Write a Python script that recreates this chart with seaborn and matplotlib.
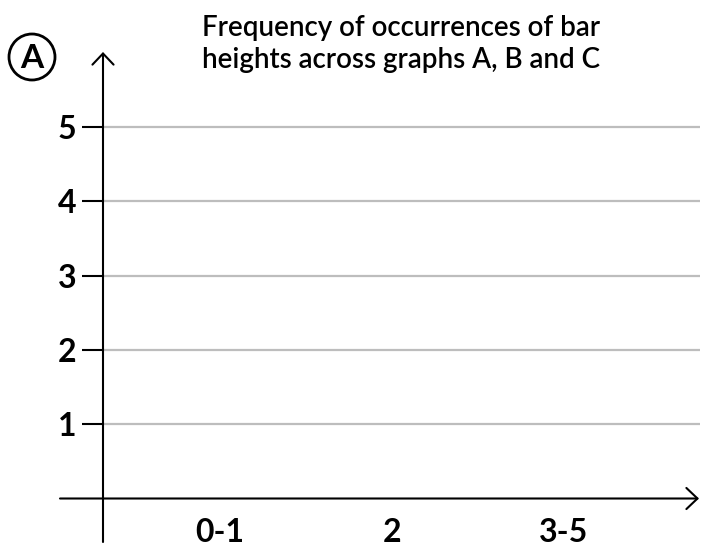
import pandas as pd
import seaborn as sns
import matplotlib.pyplot as plt
from matplotlib.patches import Ellipse

# chart data (the reference shows an empty frequency chart)
categories = ["0-1", "2", "3-5"]
frequencies = [0, 0, 0]
y_ticks = [1, 2, 3, 4, 5]
title = "Frequency of occurrences of bar\nheights across graphs A, B and C"
panel_label = "A"

sns.set_theme(style="white")
plt.rcParams["font.family"] = ["Lato", "DejaVu Sans"]
plt.rcParams["font.weight"] = "semibold"

W, H = 701, 552
fig = plt.figure(figsize=(W / 100, H / 100), dpi=100)


def px(x):
    return x / W


def py(y):
    return 1 - y / H


# pixel layout of the plotting area
y_zero, y_unit = 498.5, 74.3
x_first, x_step = 220, 172
y_top = 5.5
ax = fig.add_axes([px(103), py(y_zero), px(700) - px(103), y_top * y_unit / H])


def xd(p):
    return (p - x_first) / x_step


def yd(p):
    return (y_zero - p) / y_unit


df = pd.DataFrame({"Bar height": categories, "Frequency": frequencies})
sns.barplot(data=df, x="Bar height", y="Frequency", color="#4c72b0", ax=ax)

ax.set_xlim(xd(103), xd(700))
ax.set_ylim(0, y_top)
ax.set_yticks(y_ticks, [str(t) for t in y_ticks], fontweight="bold", fontsize=23)
ax.set_xticks(range(len(categories)), categories, fontweight="bold", fontsize=23)
ax.set_xlabel("")
ax.set_ylabel("")
for s in ax.spines.values():
    s.set_visible(False)
ax.grid(axis="y", color="#bdbdbd", lw=1.6)
ax.grid(axis="x", visible=False)
ax.set_axisbelow(True)
ax.tick_params(axis="y", left=True, length=15, width=1.5, color="black",
               labelcolor="black", pad=4)
ax.tick_params(axis="x", bottom=False, length=0, labelcolor="black", pad=14)

arrow = dict(arrowstyle="->,head_length=0.4,head_width=0.38", lw=1.5,
             color="black", shrinkA=0, shrinkB=0, mutation_scale=20)
# y axis with arrow
ax.annotate("", xy=(0, yd(52)), xytext=(0, yd(542)),
            xycoords=("axes fraction", "data"), textcoords=("axes fraction", "data"),
            arrowprops=arrow, annotation_clip=False)
# x axis with arrow
ax.annotate("", xy=(xd(699), 0), xytext=(xd(60), 0),
            arrowprops=arrow, annotation_clip=False)

fig.text(px(401), py(44), title, ha="center", va="center", fontsize=20,
         linespacing=1.25, color="black", fontweight="semibold")

fig.add_artist(Ellipse((px(32), py(57)), 46 / W, 46 / H, transform=fig.transFigure,
                       fill=False, lw=2, ec="black"))
fig.text(px(32), py(58), panel_label, ha="center", va="center", fontsize=24,
         color="black", fontweight="bold")

fig.savefig("out.png", dpi=100)
